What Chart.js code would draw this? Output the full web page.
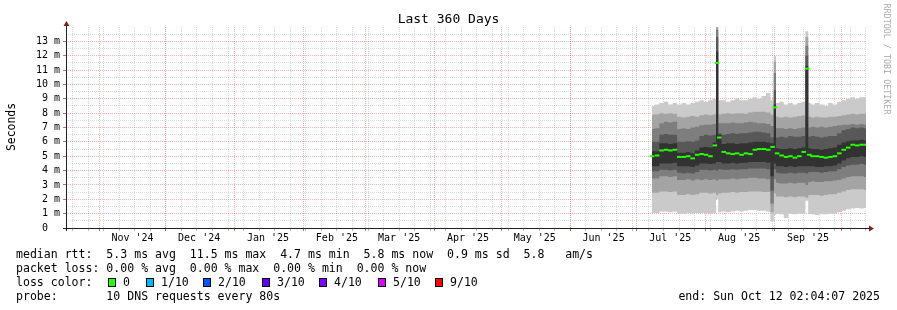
<!DOCTYPE html>
<html><head><meta charset="utf-8">
<script src="https://cdn.jsdelivr.net/npm/chart.js@4.4.1/dist/chart.umd.min.js"></script>
<style>
html,body{margin:0;padding:0;background:#fff;}
#wrap{position:relative;width:897px;height:310px;overflow:hidden;font-family:'DejaVu Sans Mono',monospace;color:#000;}
canvas{position:absolute;left:0;top:0;}
.t{position:absolute;white-space:pre;line-height:14px;font-size:11.56px;}
#title{position:absolute;left:0;top:11px;width:897px;text-align:center;font-size:13px;line-height:16px;}
#ylab{position:absolute;left:-39px;top:120px;width:100px;height:14px;line-height:14px;text-align:center;font-size:11.4px;transform:rotate(-90deg);}
#brand{position:absolute;left:817px;top:53px;width:140px;height:12px;line-height:12px;text-align:center;font-size:8.4px;color:#ababab;transform:rotate(90deg);}
.box{position:absolute;width:8px;height:9px;box-sizing:border-box;border:1px solid #000;}
</style></head><body>
<div id="wrap">
<canvas id="c" width="897" height="310"></canvas>
<div id="title">Last 360 Days</div>
<div id="ylab">Seconds</div>
<div id="brand">RRDTOOL / TOBI OETIKER</div>
<div class="t" style="left:16px;top:247px">median rtt:  5.3 ms avg  11.5 ms max  4.7 ms min  5.8 ms now  0.9 ms sd  5.8   am/s</div>
<div class="t" style="left:16px;top:261px">packet loss: 0.00 % avg  0.00 % max  0.00 % min  0.00 % now</div>
<div class="t" style="left:16px;top:275px">loss color:</div>
<div id="lossrow"></div>
<div class="t" style="left:16px;top:289px">probe:       10 DNS requests every 80s</div>
<div class="t" style="right:17px;top:289px">end: Sun Oct 12 02:04:07 2025</div>
</div>
<script>
// x positions: days since window start (Oct 17 2024 02:04)
const days = [263.7,266,268,270,272,274,276,278,280,282,284,286,288,290,292,293,294,296,298,300,302,304,306,308,310,312,314,316,318,319,320,322,324,326,328,330,332,333.5,334.5,336,338,340,342,344,346,348,350,352,354,356,358,360];
// median rtt (ms)
const median = [5.0,5.05,5.4,5.45,5.4,5.45,4.95,4.95,5.0,4.85,5.1,5.15,5.1,5.0,5.75,11.5,6.3,5.3,5.2,5.15,5.2,5.1,5.2,5.15,5.45,5.5,5.5,5.45,5.65,8.4,5.2,5.05,4.95,5.0,4.9,5.0,5.3,11.1,5.1,5.0,5.0,4.95,4.9,4.95,5.0,5.2,5.45,5.6,5.8,5.75,5.8,5.8];
// smoke bands (ms): ping1..ping10 pairs
const hi1 = [8.5,8.6,8.7,8.8,8.6,8.7,8.6,8.7,8.6,8.7,8.8,8.9,8.8,8.9,9.0,14.5,8.9,8.9,8.8,8.9,9.0,8.9,8.9,9.0,9.1,9.0,9.2,9.4,8.9,12.0,8.7,8.8,8.6,8.7,8.6,8.7,8.8,13.7,8.7,8.6,8.7,8.6,8.5,8.7,8.6,8.8,8.9,9.0,9.1,9.0,9.1,9.1];
const hi2 = [7.9,7.9,8.0,7.95,8.0,7.95,7.75,7.7,7.75,7.8,7.75,7.85,7.9,7.85,7.9,14.2,7.9,7.95,8.0,7.95,8.0,8.0,7.95,8.05,8.1,8.1,8.1,8.05,7.9,11.6,7.75,7.7,7.75,7.7,7.75,7.8,7.85,13.3,7.75,7.7,7.75,7.7,7.7,7.75,7.75,7.8,7.85,7.9,7.95,7.9,7.95,7.95];
const hi3 = [6.9,6.95,7.3,7.4,7.35,7.4,6.9,6.95,6.9,7.0,7.05,7.15,7.2,7.2,7.25,13.8,7.3,7.3,7.3,7.35,7.3,7.3,7.35,7.4,7.35,7.3,7.3,7.25,7.1,10.8,6.95,6.95,6.9,6.95,6.9,6.95,7.0,12.7,7.0,7.05,7.0,7.05,7.0,7.05,7.1,7.15,7.2,7.2,7.25,7.2,7.25,7.2];
const hi4 = [6.0,6.0,6.5,6.55,6.5,6.5,6.0,6.0,6.05,6.0,6.1,6.4,6.5,6.45,6.5,13.3,6.6,6.5,6.55,6.6,6.55,6.6,6.6,6.65,6.7,6.7,6.65,6.6,6.3,9.6,6.3,6.35,6.3,6.4,6.35,6.35,6.4,12.0,6.35,6.4,6.35,6.3,6.35,6.4,6.4,6.6,6.8,6.9,7.0,6.95,7.0,6.95];
const hi5 = [5.35,5.35,5.9,5.9,5.85,5.9,5.25,5.25,5.3,5.2,5.4,5.6,5.65,5.6,5.95,12.3,6.5,5.85,5.9,5.9,5.85,5.9,5.9,5.95,6.0,6.0,6.0,5.95,5.9,8.6,5.55,5.5,5.5,5.55,5.5,5.55,5.6,11.3,5.55,5.5,5.5,5.45,5.5,5.55,5.6,5.8,5.95,6.05,6.1,6.1,6.15,6.1];
const lo5 = [4.3,4.3,4.5,4.5,4.5,4.55,4.3,4.3,4.3,4.25,4.35,4.5,4.5,4.45,4.5,4.6,4.6,4.5,4.5,4.55,4.5,4.55,4.55,4.6,4.6,4.6,4.6,4.55,3.6,4.5,4.3,4.3,4.25,4.3,4.25,4.3,4.3,4.3,4.3,4.3,4.25,4.25,4.3,4.3,4.35,4.5,4.7,4.85,4.95,4.95,5.0,4.95];
const lo4 = [3.95,3.95,4.05,4.05,4.0,4.05,3.85,3.8,3.85,3.8,3.9,4.05,4.05,4.0,4.05,4.0,4.1,4.05,4.05,4.1,4.05,4.1,4.1,4.15,4.15,4.15,4.15,4.1,2.6,4.1,3.85,3.8,3.8,3.85,3.8,3.85,3.85,3.8,3.9,3.9,3.9,3.85,3.9,3.95,3.95,4.1,4.25,4.35,4.4,4.4,4.45,4.4];
const lo3 = [3.45,3.45,3.6,3.6,3.55,3.6,3.35,3.35,3.4,3.3,3.4,3.35,3.4,3.35,3.4,3.3,3.4,3.4,3.4,3.45,3.4,3.45,3.45,3.5,3.5,3.45,3.45,3.4,1.7,3.4,3.15,3.1,3.1,3.15,3.1,3.15,3.15,3.0,3.2,3.25,3.2,3.2,3.25,3.25,3.3,3.35,3.45,3.55,3.6,3.6,3.6,3.55];
const lo2 = [2.45,2.45,2.55,2.55,2.5,2.55,2.3,2.3,2.35,2.3,2.35,2.45,2.45,2.4,2.45,2.3,2.4,2.45,2.45,2.5,2.45,2.5,2.5,2.55,2.55,2.55,2.5,2.5,1.1,2.4,2.2,2.2,2.15,2.2,2.15,2.2,2.2,2.1,2.3,2.3,2.3,2.25,2.3,2.35,2.35,2.45,2.55,2.65,2.7,2.7,2.7,2.65];
const lo1 = [1.05,1.05,1.15,1.15,1.1,1.15,1.0,1.0,1.05,1.0,1.05,1.05,1.05,1.0,1.05,2.0,1.1,1.15,1.1,1.15,1.2,1.15,1.2,1.25,1.25,1.2,1.2,1.15,0.45,0.9,1.0,0.95,0.7,1.0,0.95,1.0,1.0,1.9,0.95,0.95,0.9,0.95,0.95,1.0,1.0,1.1,1.2,1.3,1.35,1.4,1.35,1.4];

// axis ticks
const monthStarts = [14.914,44.914,75.914,106.914,134.914,165.914,195.914,226.914,256.914,287.914,318.914,348.914];
const firstSunday = 2.914;
const monthLabelDays = [29.914,59.914,90.914,121.914,149.914,180.914,210.914,241.914,271.914,302.914,333.914];
const monthLabels = ["Nov '24","Dec '24","Jan '25","Feb '25","Mar '25","Apr '25","May '25","Jun '25","Jul '25","Aug '25","Sep '25"];
const yLabelValues = [0,1,2,3,4,5,6,7,8,9,10,11,12,13];

// loss legend
const lossLabels = ['0','1/10','2/10','3/10','4/10','5/10','9/10'];
const lossColors = ['#26ff00','#00b8ff','#0059ff','#5e00ff','#7e00ff','#dd00ff','#ff0000'];
const lossBoxX = [108,146,203,262,319,378,435];

const row = document.getElementById('lossrow');
lossLabels.forEach((l,i)=>{
  const b=document.createElement('div');b.className='box';
  b.style.left=lossBoxX[i]+'px';b.style.top='278px';b.style.background=lossColors[i];
  row.appendChild(b);
  const t=document.createElement('div');t.className='t';
  t.style.left=(lossBoxX[i]+15)+'px';t.style.top='275px';t.textContent=l;
  row.appendChild(t);
});

const pts = a => days.map((d,i)=>({x:d,y:a[i]}));
const smokeColors = ['#cacaca','#a4a4a4','#7e7e7e','#585858','#323232'];
const bands = [[lo1,hi1],[lo2,hi2],[lo3,hi3],[lo4,hi4],[lo5,hi5]];
const datasets = [];
bands.forEach((b,k)=>{
  const common = {borderWidth:0,borderColor:'transparent',pointRadius:0,stepped:'middle',order:20-k};
  datasets.push(Object.assign({data:pts(b[0]),fill:false},common));
  datasets.push(Object.assign({data:pts(b[1]),fill:'-1',backgroundColor:smokeColors[k]},common));
});
datasets.push({data:pts(median),showLine:false,pointStyle:'line',pointRadius:2.3,pointBorderWidth:2,pointBorderColor:'#26ff00',pointBackgroundColor:'#26ff00',order:0});

const RED='rgba(222,79,79,0.42)', GRAY='rgba(140,140,140,0.32)';
const axesPlugin = {
  id:'rrdAxes',
  afterDraw(chart){
    const {ctx,chartArea:a}=chart;
    ctx.save();
    ctx.strokeStyle='#1f1f1f';ctx.lineWidth=1;
    ctx.beginPath();ctx.moveTo(a.left+0.5,a.bottom+3);ctx.lineTo(a.left+0.5,a.top-2);ctx.stroke();
    ctx.beginPath();ctx.moveTo(a.left-3,a.bottom+0.5);ctx.lineTo(a.right+3,a.bottom+0.5);ctx.stroke();
    ctx.fillStyle='rgb(128,31,31)';
    ctx.beginPath();ctx.moveTo(a.left-2.5,a.top-1);ctx.lineTo(a.left+3.5,a.top-1);ctx.lineTo(a.left+0.5,a.top-6);ctx.closePath();ctx.fill();
    ctx.beginPath();ctx.moveTo(a.right+3,a.bottom-2.5);ctx.lineTo(a.right+3,a.bottom+3.5);ctx.lineTo(a.right+8,a.bottom+0.5);ctx.closePath();ctx.fill();
    ctx.restore();
  }
};

new Chart(document.getElementById('c'),{
  type:'line',
  data:{datasets},
  plugins:[axesPlugin],
  options:{
    responsive:false,animation:false,devicePixelRatio:1,
    layout:{padding:{left:0,top:27,right:31,bottom:62}},
    plugins:{legend:{display:false},tooltip:{enabled:false},title:{display:false}},
    scales:{
      x:{type:'linear',position:'bottom',min:0,max:360,weight:0,
        afterBuildTicks:s=>{
          const t=[];
          for(let d=firstSunday; d<360; d+=7) t.push({value:d,major:false});
          monthStarts.forEach(m=>t.push({value:m,major:true}));
          t.sort((p,q)=>p.value-q.value);
          s.ticks=t;
        },
        afterFit:s=>{s.height=0;},
        ticks:{display:false,autoSkip:false},
        grid:{lineWidth:1,drawTicks:true,tickLength:3,
          color:c=>c.tick&&c.tick.major?RED:GRAY,
          tickColor:c=>c.tick&&c.tick.major?'rgba(200,60,60,0.8)':'rgba(140,140,140,0.6)'},
        border:{display:false,dash:[1,1]}
      },
      xl:{type:'linear',position:'bottom',min:0,max:360,weight:1,
        afterBuildTicks:s=>{s.ticks=monthLabelDays.map(v=>({value:v}));},
        afterFit:s=>{s.height=20;},
        ticks:{autoSkip:false,maxRotation:0,minRotation:0,padding:4,color:'#000',
          font:{family:'DejaVu Sans Mono',size:10},
          callback:(v,i)=>monthLabels[i]},
        grid:{display:false,drawTicks:false},
        border:{display:false}
      },
      y:{type:'linear',min:0,max:14,
        afterBuildTicks:s=>{
          const t=[];
          for(let v=0; v<=13.5; v+=0.5) t.push({value:v});
          s.ticks=t;
        },
        afterFit:s=>{s.width=66;},
        ticks:{autoSkip:false,padding:3,color:'#000',font:{family:'DejaVu Sans Mono',size:10},
          callback:v=>yLabelValues.includes(v)?(v===0?'0  ':v+' m'):''},
        grid:{lineWidth:1,drawTicks:true,tickLength:3,
          color:c=>c.tick&&Number.isInteger(c.tick.value)?RED:GRAY,
          tickColor:c=>c.tick&&Number.isInteger(c.tick.value)&&c.tick.value>0?'rgba(200,60,60,0.8)':'transparent'},
        border:{display:false,dash:[1,1]}
      }
    }
  }
});
</script>
</body></html>
